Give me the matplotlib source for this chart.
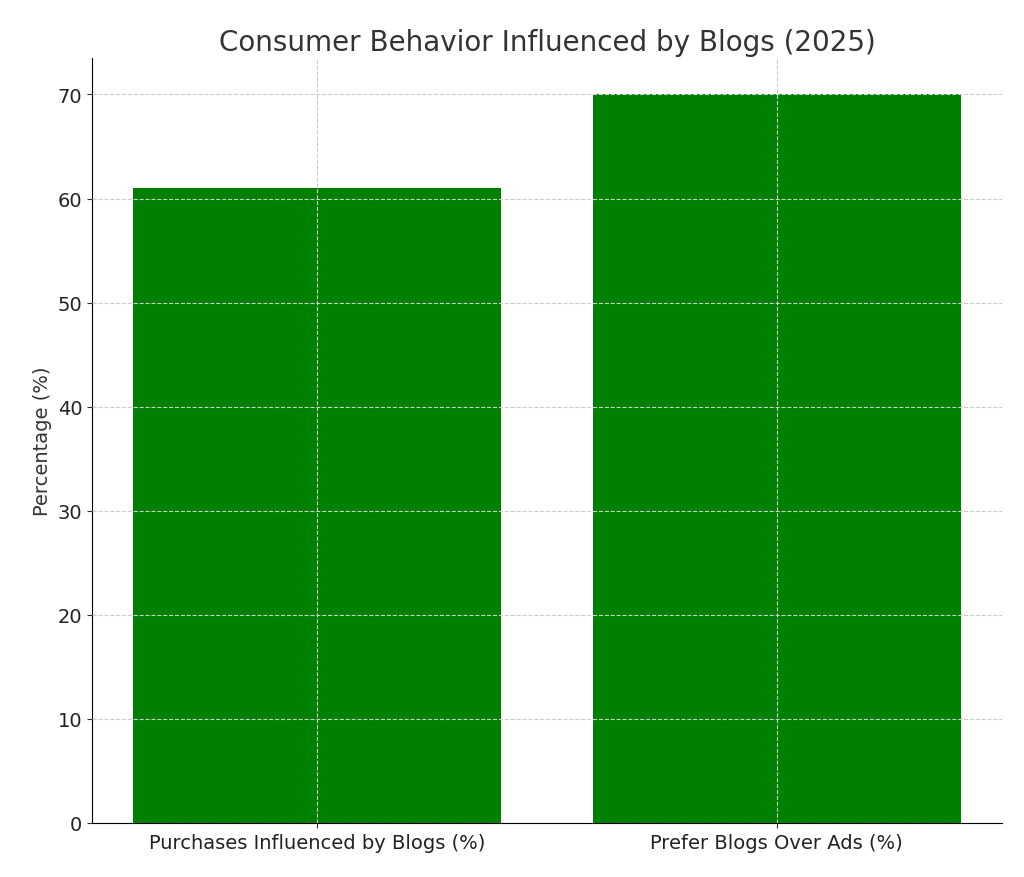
import matplotlib
matplotlib.use("Agg")
import matplotlib.pyplot as plt

categories = ["Purchases Influenced by Blogs (%)", "Prefer Blogs Over Ads (%)"]
values = [61, 70]

fig = plt.figure(figsize=(10.24, 8.78), dpi=100)
ax = fig.add_axes([92/1024, 1-824/878, (1002-92)/1024, (824-59)/878])
ax.bar(categories, values, color="#008000", width=0.8)
ax.set_ylim(0, 73.5)
ax.set_title("Consumer Behavior Influenced by Blogs (2025)", fontsize=20, color="#333333")
ax.set_ylabel("Percentage (%)", fontsize=14, color="#333333")
ax.tick_params(labelsize=14, colors="#333333", labelcolor="#222222")
ax.grid(True, linestyle="--", color="#cccccc", linewidth=0.8)
ax.set_axisbelow(False)
for s in ["top", "right"]:
    ax.spines[s].set_visible(False)
fig.savefig("out.png", dpi=100)
